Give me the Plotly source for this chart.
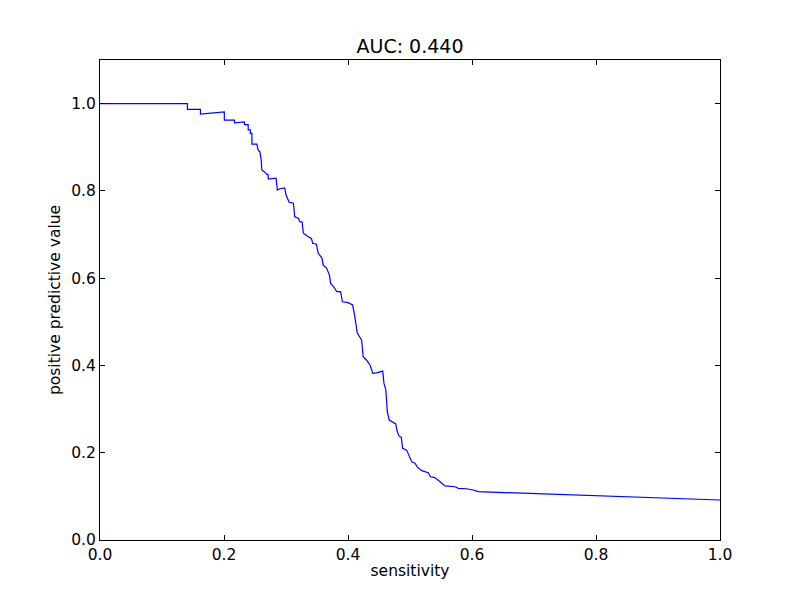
import plotly.graph_objects as go

# Precision-recall curve
sensitivity = [0.000, 0.141, 0.141, 0.162, 0.162, 0.2005, 0.2005, 0.217, 0.217, 0.233,
               0.233, 0.239, 0.239, 0.2425, 0.2425, 0.245, 0.245, 0.253, 0.255, 0.258,
               0.260, 0.261, 0.265, 0.269, 0.271, 0.2715, 0.284, 0.286, 0.290, 0.298,
               0.300, 0.305, 0.312, 0.314, 0.320, 0.3226, 0.326, 0.328, 0.336, 0.341,
               0.343, 0.349, 0.352, 0.358, 0.360, 0.3655, 0.370, 0.372, 0.377, 0.382,
               0.388, 0.391, 0.400, 0.4075, 0.411, 0.415, 0.422, 0.4245, 0.430, 0.4355,
               0.440, 0.446, 0.456, 0.458, 0.461, 0.4624, 0.4634, 0.4666, 0.473, 0.477,
               0.4795, 0.4826, 0.486, 0.488, 0.4945, 0.499, 0.503, 0.508, 0.512, 0.519,
               0.5295, 0.533, 0.540, 0.548, 0.5565, 0.5726, 0.578, 0.591, 0.602, 0.610,
               1.000]
ppv = [1.000, 1.000, 0.987, 0.987, 0.976, 0.981, 0.962, 0.962, 0.956, 0.958,
       0.952, 0.952, 0.940, 0.940, 0.932, 0.932, 0.907, 0.907, 0.894, 0.889,
       0.871, 0.848, 0.844, 0.838, 0.838, 0.827, 0.829, 0.802, 0.805, 0.807,
       0.791, 0.774, 0.772, 0.741, 0.737, 0.729, 0.729, 0.703, 0.695, 0.691,
       0.680, 0.678, 0.657, 0.646, 0.630, 0.623, 0.607, 0.588, 0.580, 0.569,
       0.569, 0.546, 0.544, 0.5385, 0.512, 0.474, 0.458, 0.420, 0.412, 0.401,
       0.382, 0.383, 0.387, 0.359, 0.344, 0.313, 0.294, 0.275, 0.269, 0.266,
       0.248, 0.238, 0.235, 0.210, 0.206, 0.191, 0.179, 0.176, 0.167, 0.159,
       0.154, 0.145, 0.143, 0.134, 0.124, 0.122, 0.1185, 0.1175, 0.1146, 0.1107,
       0.0917]

title_text = "AUC: 0.440"
x_label = "sensitivity"
y_label = "positive predictive value"
tick_vals = [0.0, 0.2, 0.4, 0.6, 0.8, 1.0]
tick_text = ["0.0", "0.2", "0.4", "0.6", "0.8", "1.0"]

fig = go.Figure(go.Scatter(x=sensitivity, y=ppv, mode="lines",
                           line=dict(color="#0000ff", width=1.2), showlegend=False))

font = "DejaVu Sans, sans-serif"
axis_common = dict(showgrid=False, zeroline=False, showline=True, linecolor="black",
                   linewidth=1, mirror="ticks", ticks="inside", ticklen=5,
                   tickcolor="black", tickwidth=1,
                   tickfont=dict(family=font, size=15.5, color="black"),
                   tickvals=tick_vals, ticktext=tick_text)

# page body has an 8px offset, so margins are shifted to keep the axes box at 100..720 x 60..540
fig.update_layout(
    width=800, height=600,
    margin=dict(l=92, r=88, t=52, b=68),
    paper_bgcolor="white", plot_bgcolor="white",
    title=dict(text=title_text, x=(410 - 8) / 800, xanchor="center", y=1 - 38 / 600,
               yanchor="middle", yref="container",
               font=dict(family=font, size=19, color="black")),
    xaxis=dict(range=[0, 1], title=dict(text=x_label, standoff=2,
               font=dict(family=font, size=15.5, color="black")), **axis_common),
    yaxis=dict(range=[0, 1.1], title=dict(text=y_label, standoff=6,
               font=dict(family=font, size=15.5, color="black")), **axis_common),
)

fig.write_html("out.html")
